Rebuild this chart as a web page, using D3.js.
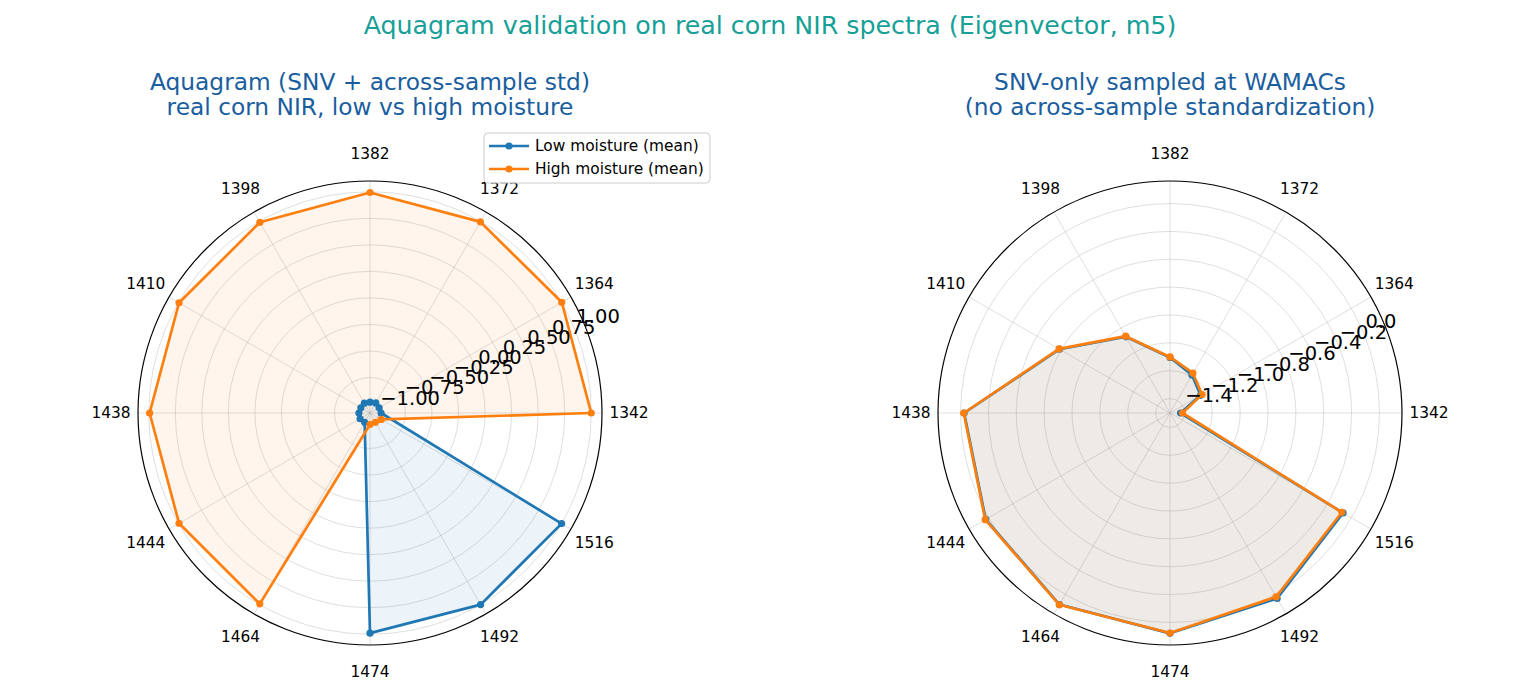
<!DOCTYPE html>
<html>
<head>
<meta charset="utf-8">
<script src="https://cdn.jsdelivr.net/npm/d3@7"></script>
<style>
  body { margin: 0; background: #fff; }
  svg text { font-family: "DejaVu Sans", sans-serif; }
</style>
</head>
<body>
<svg id="chart" width="1540" height="700"></svg>
<script>
// WAMAC wavelengths (nm), counter-clockwise from 3 o'clock
const categories = ["1342", "1364", "1372", "1382", "1398", "1410", "1438", "1444", "1464", "1474", "1492", "1516"];

// Aquagram (SNV + across-sample std)
const aquaLow  = [-0.980, -0.985, -0.975, -0.982, -0.978, -0.985, -0.980, -0.976, -0.983, 0.990, 1.000, 1.000];
const aquaHigh = [1.000, 1.002, 0.995, 0.993, 0.990, 0.993, 0.992, 0.993, 0.992, -0.976, -0.983, -0.963];
const aquaTicks = [-1.00, -0.75, -0.50, -0.25, 0.00, 0.25, 0.50, 0.75, 1.00];

// SNV-only sampled at WAMACs
const snvLow  = [-1.428, -1.250, -1.188, -1.105, -0.872, -0.588, -0.026, 0.024, 0.084, 0.078, 0.034, -0.069];
const snvHigh = [-1.414, -1.238, -1.174, -1.101, -0.867, -0.584, -0.023, 0.028, 0.086, 0.076, 0.020, -0.079];
const snvTicks = [-1.4, -1.2, -1.0, -0.8, -0.6, -0.4, -0.2, 0.0];

const seriesNames = ["Low moisture (mean)", "High moisture (mean)"];
const colors = ["#1f77b4", "#ff7f0e"];

const svg = d3.select("#chart");
const R = 232;
const minus = s => s.replace("-", "\u2212");

// suptitle
svg.append("text")
  .attr("x", 770).attr("y", 34)
  .attr("text-anchor", "middle")
  .attr("font-size", 25.3)
  .attr("fill", "#17a097")
  .text("Aquagram validation on real corn NIR spectra (Eigenvector, m5)");

function drawPolar(cx, cy, title, series, ticks, fmt) {
  const g = svg.append("g").attr("transform", `translate(${cx},${cy})`);

  // matplotlib-like autoscale: 5% margin on data range
  const all = series.flat();
  const lo = d3.min(all), hi = d3.max(all), pad = (hi - lo) * 0.05;
  const r = d3.scaleLinear().domain([lo - pad, hi + pad]).range([0, R]);
  const angle = d3.scaleLinear().domain([0, categories.length])
    .range([Math.PI / 2, Math.PI / 2 - 2 * Math.PI]);

  const px = (a, rad) => rad * Math.sin(a);
  const py = (a, rad) => -rad * Math.cos(a);

  // grid circles
  g.selectAll(".rgrid").data(ticks).enter().append("circle")
    .attr("r", d => r(d))
    .attr("fill", "none")
    .attr("stroke", "#b0b0b0").attr("stroke-opacity", 0.4).attr("stroke-width", 1);

  // spokes
  g.selectAll(".spoke").data(categories).enter().append("line")
    .attr("x1", 0).attr("y1", 0)
    .attr("x2", (d, i) => px(angle(i), R))
    .attr("y2", (d, i) => py(angle(i), R))
    .attr("stroke", "#b0b0b0").attr("stroke-opacity", 0.4).attr("stroke-width", 1);

  const line = d3.lineRadial()
    .angle((d, i) => angle(i))
    .radius(d => r(d))
    .curve(d3.curveLinearClosed);

  series.forEach((vals, k) => {
    g.append("path").attr("d", line(vals))
      .attr("fill", colors[k]).attr("fill-opacity", 0.08).attr("stroke", "none");
  });
  series.forEach((vals, k) => {
    g.append("path").attr("d", line(vals))
      .attr("fill", "none").attr("stroke", colors[k])
      .attr("stroke-width", 2.7).attr("stroke-linejoin", "round");
    g.selectAll(null).data(vals).enter().append("circle")
      .attr("cx", (d, i) => px(angle(i), r(d)))
      .attr("cy", (d, i) => py(angle(i), r(d)))
      .attr("r", 3.6)
      .attr("fill", colors[k]);
  });

  // outer frame
  g.append("circle").attr("r", R).attr("fill", "none")
    .attr("stroke", "#000").attr("stroke-width", 1.2);

  // theta labels
  g.selectAll(".tlab").data(categories).enter().append("text")
    .attr("x", (d, i) => px(angle(i), R + 27))
    .attr("y", (d, i) => py(angle(i), R + 27))
    .attr("text-anchor", "middle")
    .attr("dominant-baseline", "central")
    .attr("font-size", 15.4)
    .text(d => d);

  // radial labels at 22.5 deg
  const ra = Math.PI / 2 - Math.PI / 8;
  g.selectAll(".rlab").data(ticks).enter().append("text")
    .attr("x", d => px(ra, r(d)) + 2)
    .attr("y", d => py(ra, r(d)) - 5)
    .attr("font-size", 19.5)
    .text(d => minus(fmt(d)));

  // subplot title
  const t = svg.append("text")
    .attr("x", cx).attr("text-anchor", "middle")
    .attr("font-size", 23.3).attr("fill", "#1a5e9e");
  title.forEach((s, i) => {
    t.append("tspan").attr("x", cx).attr("y", 90 + i * 25).text(s);
  });
}

drawPolar(370, 413,
  ["Aquagram (SNV + across-sample std)", "real corn NIR, low vs high moisture"],
  [aquaLow, aquaHigh], aquaTicks, d3.format(".2f"));

drawPolar(1170, 413,
  ["SNV-only sampled at WAMACs", "(no across-sample standardization)"],
  [snvLow, snvHigh], snvTicks, d3.format(".1f"));

// legend
const lg = svg.append("g").attr("transform", "translate(484,133)");
lg.append("rect").attr("width", 226).attr("height", 50).attr("rx", 4)
  .attr("fill", "#fff").attr("fill-opacity", 0.8)
  .attr("stroke", "#cccccc").attr("stroke-width", 1);
seriesNames.forEach((name, k) => {
  const y = 13 + k * 23;
  lg.append("line").attr("x1", 5).attr("x2", 45).attr("y1", y).attr("y2", y)
    .attr("stroke", colors[k]).attr("stroke-width", 2.7);
  lg.append("circle").attr("cx", 25).attr("cy", y).attr("r", 3.6).attr("fill", colors[k]);
  lg.append("text").attr("x", 51).attr("y", y).attr("dominant-baseline", "central")
    .attr("font-size", 15.4).text(name);
});
</script>
</body>
</html>
